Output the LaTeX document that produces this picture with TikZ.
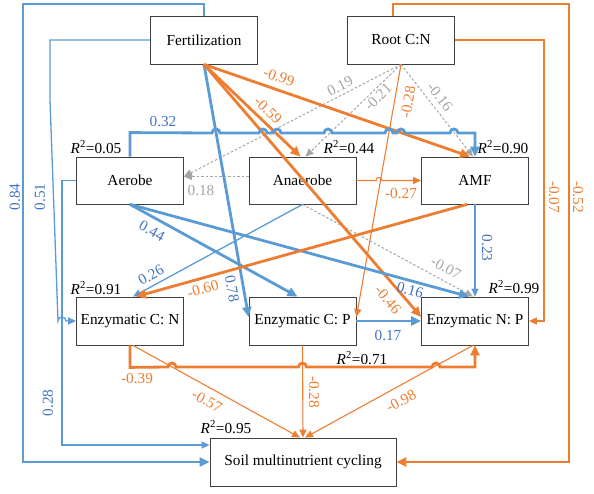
\documentclass[tikz,border=0pt]{standalone}
\usepackage{fontspec}
\setmainfont{Liberation Serif}
\definecolor{pathblue}{RGB}{91,155,213}
\definecolor{textblue}{RGB}{68,114,196}
\definecolor{pathorange}{RGB}{237,125,49}
\definecolor{pathgray}{RGB}{165,165,165}
\usetikzlibrary{arrows.meta, positioning, calc}
\newcommand{\figfont}{\fontsize{15.3pt}{18pt}\selectfont}
\newcommand{\rsq}[1]{\textit{R}\textsuperscript{2}=#1}

\begin{document}
\begin{tikzpicture}[x=1pt, y=-1pt, font=\figfont,
    box/.style={draw=black!75, line width=0.8pt, fill=white, minimum width=107pt, minimum height=48pt, inner sep=0pt},
    bthick/.style={draw=pathblue, line width=2.8pt, -{Triangle[length=10pt,width=9pt]}},
    bthin/.style={draw=pathblue, line width=1.3pt, -{Triangle[length=8pt,width=7pt]}},
    othick/.style={draw=pathorange, line width=2.8pt, -{Triangle[length=10pt,width=9pt]}},
    othin/.style={draw=pathorange, line width=1.1pt, -{Triangle[length=8pt,width=7pt]}},
    gdot/.style={draw=pathgray, line width=1pt, dash pattern=on 2.5pt off 2pt, -{Triangle[length=8pt,width=7pt]}},
    blab/.style={text=textblue, inner sep=1pt},
    olab/.style={text=pathorange, inner sep=1pt},
    glab/.style={text=pathgray, inner sep=1pt}]
  \useasboundingbox (0,0) rectangle (594,494);

  \node[box] (fert) at (204,40) {Fertilization};
  \node[box] (root) at (401,40) {Root C:N};
  \node[box, minimum height=47pt] (aer) at (130,180.5) {Aerobe};
  \node[box, minimum height=47pt] (ana) at (302.5,180.5) {Anaerobe};
  \node[box, minimum height=47pt] (amf) at (475,180.5) {AMF};
  \node[box] (ecn) at (130,321) {Enzymatic C: N};
  \node[box] (ecp) at (302.5,321) {Enzymatic C: P};
  \node[box] (enp) at (475,321) {Enzymatic N: P};
  \node[box, minimum width=186pt] (soil) at (303,462) {Soil multinutrient cycling};

  \node (r2aer) at (96,147) {\rsq{0.05}};
  \node (r2ana) at (349,147) {\rsq{0.44}};
  \node (r2amf) at (503,147) {\rsq{0.90}};
  \node (r2ecn) at (96,288) {\rsq{0.91}};
  \node (r2enp) at (514,287) {\rsq{0.99}};
  \node (r2ecp) at (362,358) {\rsq{0.71}};
  \node (r2soil) at (226,427) {\rsq{0.95}};

  % gray paths
  \draw[gdot] (root.south) -- ([yshift=4pt]aer.east);
  \draw[gdot] (root.south) -- ([xshift=3pt]ana.north);
  \draw[gdot] (root.south) -- ([xshift=-2pt]amf.north);
  \draw[gdot] ([yshift=4pt]ana.west) -- ([yshift=4pt]aer.east);
  \draw[gdot] (ana.south) -- ([xshift=-2pt]enp.north);

  % thin paths
  \draw[bthin] (fert.west) -| (50,100) \foreach \hy in {62} { -- (\hy-4,321) arc[start angle=180, end angle=360, radius=4] } -- (ecn.west);
  \draw[bthin] (aer.west) -| (62,300) |- ([yshift=17pt]soil.west);
  \draw[othin] (root.east) -| (544,100) |- (enp.east);
  \draw[othin] (root.south) -- ([yshift=4pt]ecp.east);
  \draw[othin] (ana.east) -- (376,180.5) arc[start angle=180, end angle=360, radius=3] -- (amf.west);
  \draw[bthin] (ana.south) -- ([xshift=3pt]ecn.north);
  \draw[bthin] (amf.south) -- (enp.north);
  \draw[othin] (ecp.south) -- (soil.north);
  \draw[othin] ([xshift=3pt]ecn.south) -- ([xshift=-3pt]soil.north);
  \draw[othin] ([xshift=-2pt]enp.south) -- ([xshift=2pt]soil.north);

  % thick paths
  \draw[bthick] (fert.north) |- (23,4) |- (soil.west);
  \draw[othick] ([xshift=-8pt]root.north) |- (569,4) |- (soil.east);
  \draw[bthick] (fert.south) -- ([yshift=4pt]ecp.west);
  \draw[othick] (fert.south) -- ([xshift=-5pt]amf.north);
  \draw[othick] (fert.south) -- ([xshift=-2pt]ana.north);
  \draw[othick] (fert.south) -- ([yshift=4pt]enp.west);
  \draw[bthick] (aer.south) -- ([xshift=-5pt]ecp.north);
  \draw[bthick] (aer.south) -- ([xshift=-6pt]enp.north);
  \draw[othick] ([xshift=-8pt]amf.south) -- ([xshift=6pt]ecn.north);
  \draw[bthick] (ecp.east) -- (enp.west);
  \draw[bthick] (aer.north) -- ++(0,-24) \foreach \hx in {216,263,277,328,389,401,454} { -- (\hx-4,133) arc[start angle=180, end angle=360, radius=4] } -| (amf.north);
  \draw[othick] (ecn.south) -- ++(0,22) \foreach \hx in {172,302.5,436} { -- (\hx-4,367) arc[start angle=180, end angle=360, radius=4] } -| (enp.south);

  % coefficients
  \node[blab, rotate=90] (l084) at (15,197) {0.84};
  \node[blab, rotate=90] (l051) at (40,197) {0.51};
  \node[blab, rotate=90] (l028a) at (48,403) {0.28};
  \node[olab, rotate=-90] (l007a) at (554,197) {-0.07};
  \node[olab, rotate=-90] (l052) at (578,197) {-0.52};
  \node[blab] (l032) at (163,122) {0.32};
  \node[olab, rotate=-19] (l099) at (279,77) {-0.99};
  \node[olab, rotate=-44] (l059) at (268,110) {-0.59};
  \node[glab, rotate=27] (l019) at (340,86) {0.19};
  \node[glab, rotate=44] (l021) at (378,97) {-0.21};
  \node[olab, rotate=80] (l028b) at (408,102) {-0.28};
  \node[glab, rotate=-52] (l016a) at (440,97) {-0.16};
  \node[glab] (l018) at (201,191) {0.18};
  \node[olab] (l027) at (401,194) {-0.27};
  \node[blab, rotate=-29] (l044) at (152,231) {0.44};
  \node[blab, rotate=29] (l026) at (151,275) {0.26};
  \node[olab, rotate=16] (l060) at (203,289) {-0.60};
  \node[blab, rotate=-80] (l078) at (232,289) {0.78};
  \node[olab, rotate=-50] (l046) at (388,300) {-0.46};
  \node[blab, rotate=-15] (l016b) at (410,290) {0.16};
  \node[glab, rotate=-28] (l007b) at (446,268) {-0.07};
  \node[blab, rotate=-90] (l023) at (487,248) {0.23};
  \node[blab] (l017) at (388,336) {0.17};
  \node[olab] (l039) at (137,379) {-0.39};
  \node[olab, rotate=-29] (l057) at (207,401) {-0.57};
  \node[olab, rotate=-90] (l028c) at (314,392) {-0.28};
  \node[olab, rotate=28] (l098) at (401,401) {-0.98};
\end{tikzpicture}
\end{document}
